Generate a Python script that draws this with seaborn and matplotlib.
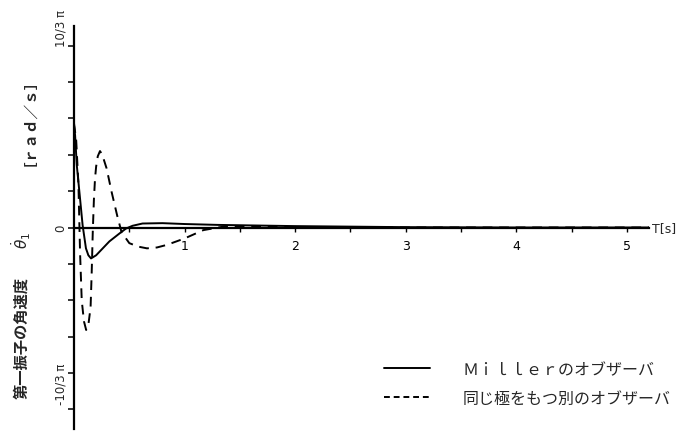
import numpy as np
import pandas as pd
import matplotlib
matplotlib.use("Agg")
import matplotlib.pyplot as plt
import matplotlib.transforms as mtransforms
from matplotlib.lines import Line2D
import seaborn as sns

# Angular velocity of the first oscillator [rad/s] vs time T [s]
t_miller = [0.0, 0.01, 0.025, 0.048, 0.078, 0.108, 0.13, 0.154, 0.2, 0.26,
            0.32, 0.41, 0.47, 0.53, 0.62, 0.8, 1.0, 1.3, 1.6, 2.0, 2.5,
            3.0, 4.0, 5.2]
w_miller = [5.9, 5.3, 3.6, 2.1, 0.13, -1.2, -1.6, -1.78, -1.6, -1.2,
            -0.8, -0.35, -0.06, 0.1, 0.23, 0.25, 0.2, 0.15, 0.12, 0.08, 0.05,
            0.02, 0.0, 0.0]

t_other = [0.0, 0.02, 0.04, 0.055, 0.07, 0.09, 0.11, 0.13, 0.15, 0.16,
           0.17, 0.18, 0.19, 0.2, 0.215, 0.235, 0.255, 0.295, 0.34, 0.39,
           0.43, 0.5, 0.58, 0.66, 0.75, 0.84, 1.0, 1.17, 1.35, 1.6, 2.0,
           3.0, 5.2]
w_other = [6.0, 5.0, 2.5, -1.5, -4.2, -5.4, -5.9, -5.6, -4.6, -2.6,
           -0.2, 1.6, 2.8, 3.5, 4.1, 4.4, 4.2, 3.4, 2.05, 0.7,
           -0.27, -0.9, -1.1, -1.2, -1.15, -1.0, -0.63, -0.15, 0.05, 0.05, 0.02,
           0.0, 0.0]

label_miller = "Ｍｉｌｌｅｒのオブザーバ"
label_other = "同じ極をもつ別のオブザーバ"

sns.set_style("white")
plt.rcParams["font.family"] = ["Noto Sans CJK JP", "DejaVu Sans"]
plt.rcParams["mathtext.fontset"] = "dejavusans"

fig = plt.figure(figsize=(6.94, 4.39), dpi=100)
ax = fig.add_axes([74 / 694, 9 / 439, 575 / 694, 403 / 439])

df_m = pd.DataFrame({"t": t_miller, "w": w_miller})
df_o = pd.DataFrame({"t": t_other, "w": w_other})
sns.lineplot(data=df_m, x="t", y="w", ax=ax, color="black", lw=1.4,
             estimator=None, sort=False)
sns.lineplot(data=df_o, x="t", y="w", ax=ax, color="black", lw=1.4,
             estimator=None, sort=False, linestyle=(0, (5, 3.5)))

ax.set_xlim(0, 5.2)
ax.set_ylim(-11.6, 11.6)
ax.set_xlabel("")
ax.set_ylabel("")

for s in ("top", "right"):
    ax.spines[s].set_visible(False)
ax.spines["bottom"].set_position(("data", 0))
ax.spines["left"].set_position(("data", 0))
for s in ("bottom", "left"):
    ax.spines[s].set_linewidth(1.6)
    ax.spines[s].set_color("black")

xt = np.arange(0.5, 5.01, 0.5)
ax.set_xticks(xt)
ax.set_xticklabels([str(int(v)) if v == int(v) else "" for v in xt],
                   fontsize=9, family="DejaVu Sans")
ax.tick_params(axis="x", bottom=True, direction="out", length=3, width=1,
               pad=5, colors="black")

yt = [k * 2 * np.pi / 3 for k in range(-5, 6)]
ax.set_yticks(yt)
ax.set_yticklabels([""] * len(yt))
ax.tick_params(axis="y", left=True, direction="out", length=4, width=1.1,
               colors="black")

# rotated tick labels on the value axis
trans = mtransforms.blended_transform_factory(fig.transFigure, ax.transData)
lx = 61 / 694
ax.text(lx, 10 * np.pi / 3, "10/3 π", rotation=90, ha="center",
        va="bottom", fontsize=8.5, family="DejaVu Sans", transform=trans)
ax.text(lx, 0, "0", rotation=90, ha="center", va="center",
        fontsize=8.5, family="DejaVu Sans", transform=trans)
ax.text(lx, -10 * np.pi / 3 + 0.3, "-10/3 π", rotation=90,
        ha="center", va="bottom", fontsize=8.5, family="DejaVu Sans",
        transform=trans)

# axis title of the value axis, in three parts
fig.text(21 / 694, 1 - 338 / 439, "第一振子の角速度", rotation=90,
         ha="center", va="center", fontsize=11, fontweight="bold")
fig.text(21 / 694, 1 - 240 / 439, "$\\dot{\\theta}_1$", rotation=90,
         ha="center", va="center", fontsize=11)
fig.text(21 / 694, 1 - 115 / 439, "［ｒａｄ／ｓ］", rotation=90,
         ha="center", va="center", fontsize=10.5, fontweight="bold")
fig.text(652 / 694, 1 - 229 / 439, "T[s]", ha="left", va="center",
         fontsize=9, family="DejaVu Sans")

handles = [Line2D([], [], color="black", lw=1.4),
           Line2D([], [], color="black", lw=1.4, linestyle=(0, (3, 2)))]
ax.legend(handles, [label_miller, label_other], loc="upper left",
          bbox_to_anchor=(384 / 694, 1 - 362 / 439),
          bbox_transform=fig.transFigure, frameon=False, fontsize=11.5,
          handlelength=2.9, handletextpad=2.0, labelspacing=0.75,
          borderpad=0, borderaxespad=0)

fig.savefig("out.png", dpi=100, facecolor="white")
